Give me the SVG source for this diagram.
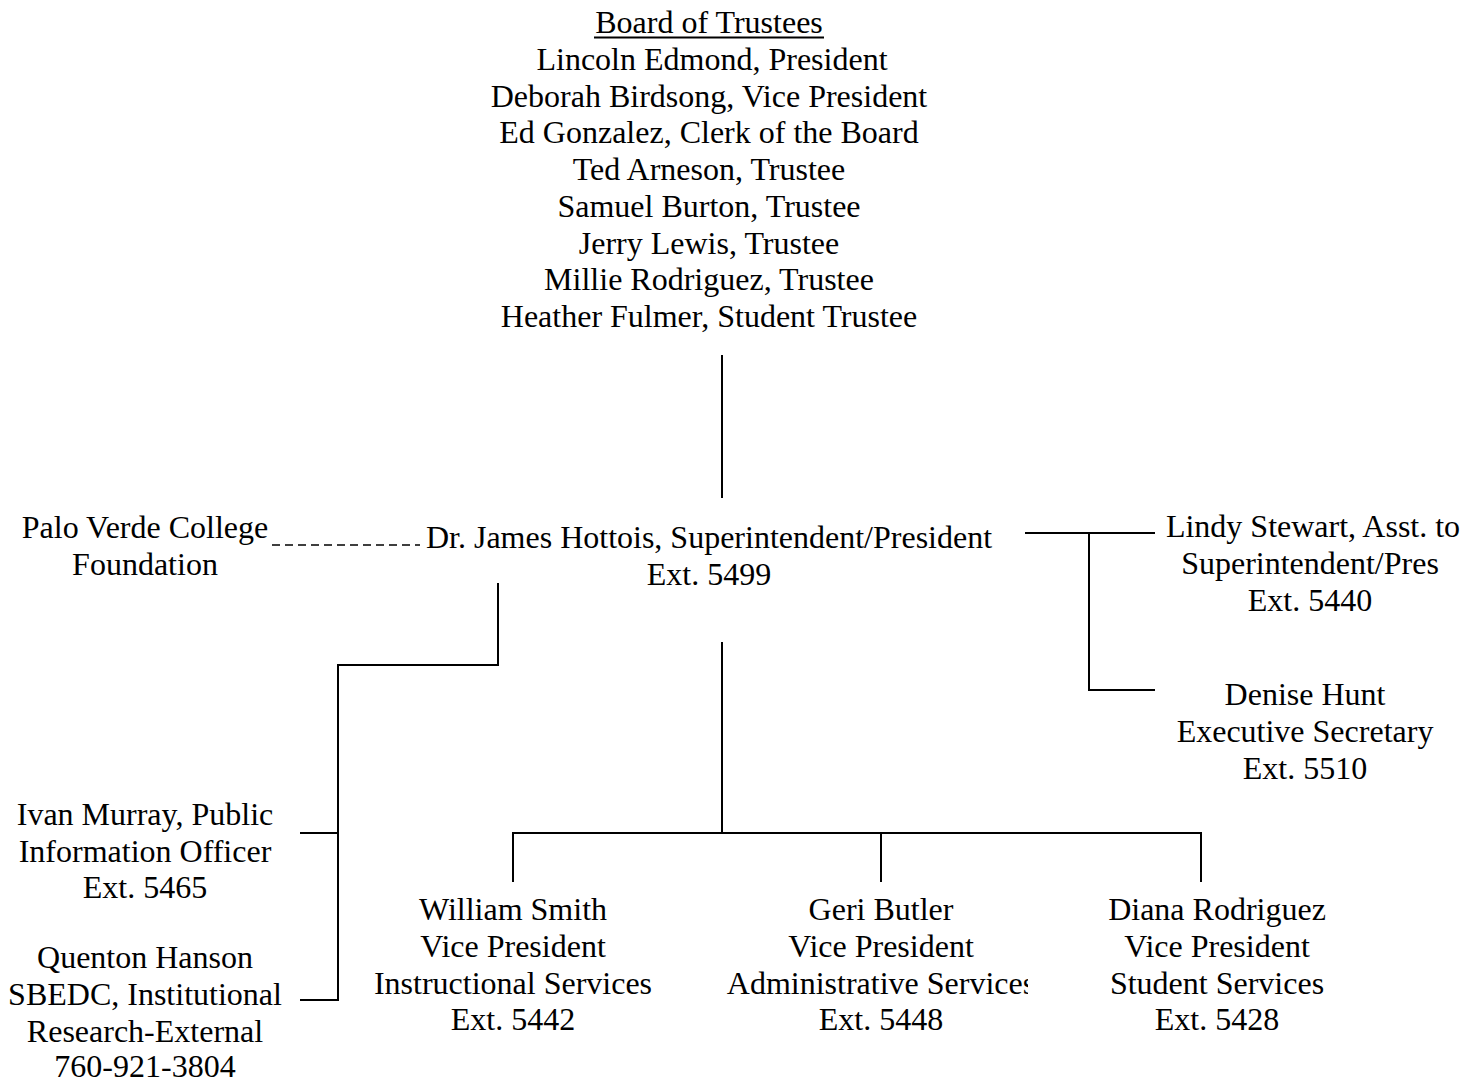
<svg xmlns="http://www.w3.org/2000/svg" width="1479" height="1082" viewBox="0 0 1479 1082">
<style>
text{font-family:"Liberation Serif","Times New Roman",serif;font-size:32px;fill:#000;text-anchor:middle}
.ln{stroke:#000;stroke-width:2;fill:none}
.dash{stroke:#000;stroke-width:1.5;fill:none;stroke-dasharray:8 5}
</style>
<defs>
<clipPath id="clipAdmin"><rect x="700" y="880" width="328" height="180"/></clipPath>
</defs>
<rect width="1479" height="1082" fill="#fff"/>
<g id="connectors">
<line class="ln" x1="594" y1="37.5" x2="824" y2="37.5"/>
<line class="ln" x1="722" y1="355" x2="722" y2="498"/>
<line class="dash" x1="272" y1="545" x2="420" y2="545"/>
<polyline class="ln" points="1025,533 1155,533"/>
<polyline class="ln" points="1089,533 1089,690 1155,690"/>
<polyline class="ln" points="498,583 498,665 338,665 338,1000 300,1000"/>
<line class="ln" x1="300" y1="833" x2="338" y2="833"/>
<line class="ln" x1="722" y1="642" x2="722" y2="833"/>
<polyline class="ln" points="513,882 513,833 1201,833 1201,882"/>
<line class="ln" x1="881" y1="833" x2="881" y2="882"/>
</g>
<g id="board">
<text x="709" y="33">Board of Trustees</text>
<text x="712" y="70">Lincoln Edmond, President</text>
<text x="709" y="107">Deborah Birdsong, Vice President</text>
<text x="709" y="143">Ed Gonzalez, Clerk of the Board</text>
<text x="709" y="180">Ted Arneson, Trustee</text>
<text x="709" y="217">Samuel Burton, Trustee</text>
<text x="709" y="254">Jerry Lewis, Trustee</text>
<text x="709" y="290">Millie Rodriguez, Trustee</text>
<text x="709" y="327">Heather Fulmer, Student Trustee</text>
</g>
<g id="president">
<text x="709" y="548">Dr. James Hottois, Superintendent/President</text>
<text x="709" y="585">Ext. 5499</text>
</g>
<g id="foundation">
<text x="145" y="538">Palo Verde College</text>
<text x="145" y="575">Foundation</text>
</g>
<g id="stewart">
<text x="1313" y="537">Lindy Stewart, Asst. to</text>
<text x="1310" y="574">Superintendent/Pres</text>
<text x="1310" y="611">Ext. 5440</text>
</g>
<g id="hunt">
<text x="1305" y="705">Denise Hunt</text>
<text x="1305" y="742">Executive Secretary</text>
<text x="1305" y="779">Ext. 5510</text>
</g>
<g id="murray">
<text x="145" y="825">Ivan Murray, Public</text>
<text x="145" y="862">Information Officer</text>
<text x="145" y="898">Ext. 5465</text>
</g>
<g id="hanson">
<text x="145" y="968">Quenton Hanson</text>
<text x="145" y="1005">SBEDC, Institutional</text>
<text x="145" y="1042">Research-External</text>
<text x="145" y="1077">760-921-3804</text>
</g>
<g id="smith">
<text x="513" y="920">William Smith</text>
<text x="513" y="957">Vice President</text>
<text x="513" y="994">Instructional Services</text>
<text x="513" y="1030">Ext. 5442</text>
</g>
<g id="butler">
<text x="881" y="920">Geri Butler</text>
<text x="881" y="957">Vice President</text>
<text x="881" y="994" clip-path="url(#clipAdmin)">Administrative Services</text>
<text x="881" y="1030">Ext. 5448</text>
</g>
<g id="rodriguez">
<text x="1217" y="920">Diana Rodriguez</text>
<text x="1217" y="957">Vice President</text>
<text x="1217" y="994">Student Services</text>
<text x="1217" y="1030">Ext. 5428</text>
</g>
</svg>
